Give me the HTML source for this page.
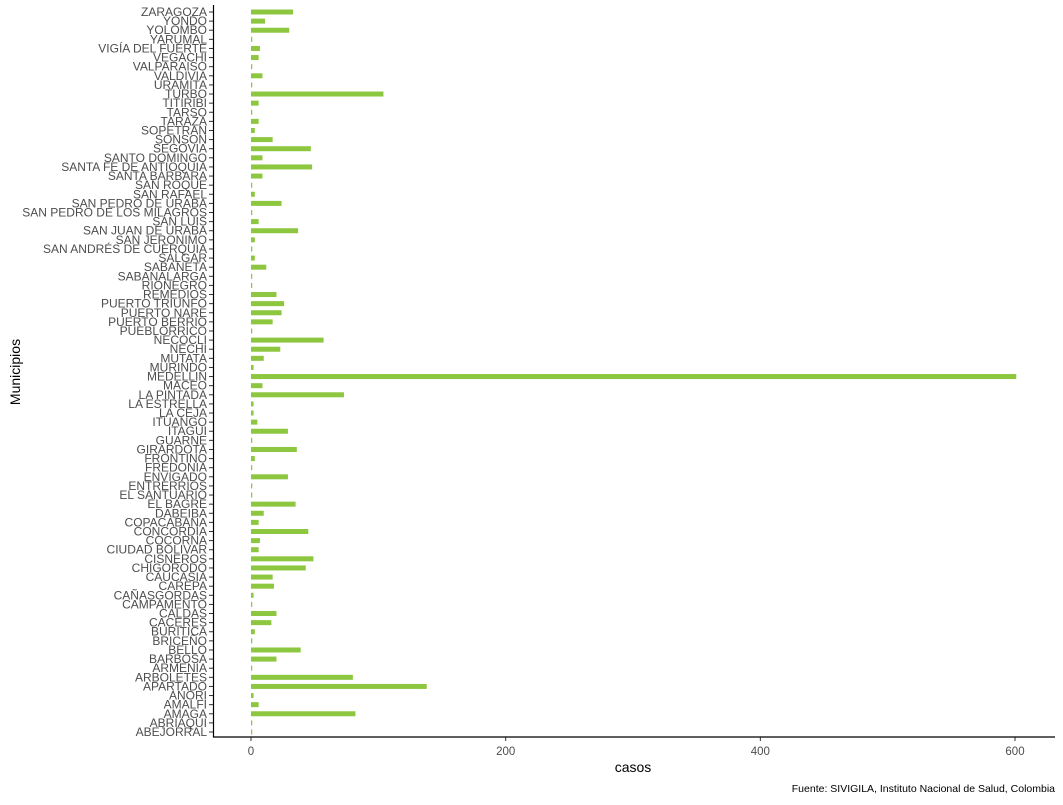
<!DOCTYPE html>
<html><head><meta charset="utf-8"><style>
body{margin:0;background:#fff;}
svg text{font-family:"Liberation Sans",sans-serif;}
</style></head><body>
<svg id="chart" width="1063" height="800"></svg>
<script>
const categories=["ABEJORRAL","ABRIAQUI","AMAGA","AMALFI","ANORI","APARTADO","ARBOLETES","ARMENIA","BARBOSA","BELLO","BRICEÑO","BURITICA","CACERES","CALDAS","CAMPAMENTO","CAÑASGORDAS","CAREPA","CAUCASIA","CHIGORODO","CISNEROS","CIUDAD BOLIVAR","COCORNA","CONCORDIA","COPACABANA","DABEIBA","EL BAGRE","EL SANTUARIO","ENTRERRIOS","ENVIGADO","FREDONIA","FRONTINO","GIRARDOTA","GUARNE","ITAGUI","ITUANGO","LA CEJA","LA ESTRELLA","LA PINTADA","MACEO","MEDELLIN","MURINDO","MUTATA","NECHI","NECOCLI","PUEBLORRICO","PUERTO BERRIO","PUERTO NARE","PUERTO TRIUNFO","REMEDIOS","RIONEGRO","SABANALARGA","SABANETA","SALGAR","SAN ANDRÉS DE CUERQUIA","SAN JERONIMO","SAN JUAN DE URABA","SAN LUIS","SAN PEDRO DE LOS MILAGROS","SAN PEDRO DE URABA","SAN RAFAEL","SAN ROQUE","SANTA BARBARA","SANTA FE DE ANTIOQUIA","SANTO DOMINGO","SEGOVIA","SONSON","SOPETRAN","TARAZA","TARSO","TITIRIBI","TURBO","URAMITA","VALDIVIA","VALPARAISO","VEGACHI","VIGÍA DEL FUERTE","YARUMAL","YOLOMBO","YONDO","ZARAGOZA"];
const casos=[1,1,82,6,2,138,80,1,20,39,1,3,16,20,1,2,18,17,43,49,6,7,45,6,10,35,1,1,29,1,3,36,1,29,5,2,2,73,9,601,2,10,23,57,1,17,24,26,20,1,1,12,3,1,3,37,6,1,24,3,1,9,48,9,47,17,3,6,1,6,104,1,9,1,6,7,1,30,11,33];
const xTicks=[0,200,400,600];
const NS="http://www.w3.org/2000/svg";
const svg=document.getElementById('chart');
const x0=251,xk=764/600,yTop=12,yBot=732;
const X=v=>x0+v*xk;
const Y=i=>yBot-i*(yBot-yTop)/(categories.length-1);
function mk(t,a){const e=document.createElementNS(NS,t);for(const k in a)e.setAttribute(k,a[k]);svg.appendChild(e);return e;}
categories.forEach((c,i)=>{
  const y=Y(i);
  const r=mk('rect',{x:X(0),y:y-2.5,width:Math.max(0,X(casos[i])-X(0)),height:5,fill:'#8DC63F'});
  
  
  const tk=mk('line',{x1:209,x2:213.5,y1:y,y2:y,stroke:'#333','stroke-width':1});
  
  
  const t=mk('text',{x:207,y:y+4,'text-anchor':'end','font-size':12,fill:'#4d4d4d'});
  t.textContent=c;
  
  
});
xTicks.forEach(v=>{
  const l=mk('line',{x1:X(v),x2:X(v),y1:737,y2:741,stroke:'#333'});
  
  
  const t=mk('text',{x:X(v),y:755,'text-anchor':'middle','font-size':11.5,fill:'#4d4d4d'});
  t.textContent=v;
  
  
});
const ya=mk('line',{x1:213.5,x2:213.5,y1:5,y2:737.5,stroke:'#000','stroke-width':1.2});


const xa=mk('line',{x1:213,x2:1055,y1:737,y2:737,stroke:'#000','stroke-width':1.2});


const xt=mk('text',{x:633,y:772,'text-anchor':'middle','font-size':14,fill:'#000'});
xt.textContent='casos';


const yt=mk('text',{x:20,y:372,'text-anchor':'middle','font-size':14,fill:'#000',transform:'rotate(-90 20 372)'});
yt.textContent='Municipios';


const cap=mk('text',{x:1055,y:792,'text-anchor':'end','font-size':10.5,fill:'#000'});
cap.textContent='Fuente: SIVIGILA, Instituto Nacional de Salud, Colombia';


</script>
</body></html>
